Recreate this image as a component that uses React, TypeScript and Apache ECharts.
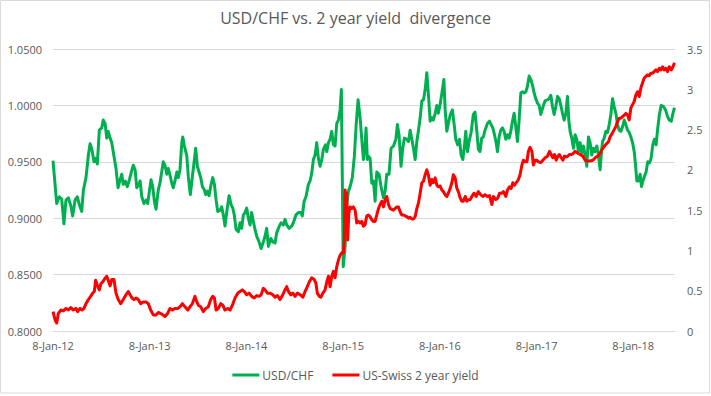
import React, { useEffect, useRef } from "react";
import * as echarts from "echarts";

// x values are weeks since 8-Jan-2012
const usdChf: [number, number][] = [
[0,0.951],[2,0.913],[3.4,0.919],[4.7,0.917],[5.9,0.895],[7,0.916],[8.3,0.918],[9.6,0.911],[10.6,0.902],[11.9,0.916],[13.1,0.919],[14.2,0.912],[15.5,0.906],[16.4,0.925],[17.8,0.936],[19.1,0.956],[20,0.966],[21,0.961],[22.1,0.95],[23,0.953],[23.9,0.948],[25,0.978],[26.3,0.98],[27.1,0.987],[28.1,0.984],[29,0.971],[29.8,0.977],[30.8,0.971],[31.7,0.967],[32.9,0.955],[34,0.944],[35.1,0.927],[36.2,0.934],[37.1,0.939],[37.9,0.93],[39,0.933],[40.1,0.928],[41.2,0.934],[42.3,0.941],[43.3,0.947],[44.3,0.943],[45.2,0.927],[46.3,0.93],[47,0.933],[47.9,0.919],[49.1,0.913],[50.2,0.916],[51.1,0.913],[52,0.924],[52.9,0.934],[53.8,0.928],[54.7,0.915],[55.6,0.908],[56.8,0.925],[57.7,0.931],[59.5,0.95],[60.4,0.947],[61.4,0.939],[62.2,0.944],[63,0.939],[64.1,0.931],[64.9,0.927],[65.8,0.933],[66.8,0.941],[67.6,0.936],[68.5,0.943],[69.5,0.967],[70,0.972],[70.9,0.964],[72.2,0.955],[73,0.937],[74.1,0.921],[75.2,0.937],[76.3,0.952],[77,0.962],[77.9,0.946],[78.8,0.941],[79.7,0.936],[80.6,0.928],[81.7,0.925],[82.4,0.921],[83.3,0.924],[84.2,0.92],[85.3,0.93],[86.2,0.936],[87.1,0.93],[88,0.916],[88.9,0.906],[90.1,0.907],[91,0.91],[91.9,0.903],[92.8,0.893],[93.7,0.905],[95,0.92],[96.1,0.912],[97,0.909],[97.8,0.903],[98.8,0.89],[100,0.888],[100.9,0.896],[101.8,0.891],[102.7,0.903],[103.6,0.905],[104.5,0.909],[105.4,0.9],[106.3,0.894],[107.2,0.905],[108.1,0.897],[109,0.89],[109.9,0.884],[111.2,0.879],[112.3,0.873],[113.5,0.879],[114.4,0.884],[115.3,0.891],[116.2,0.875],[117.5,0.882],[118.6,0.879],[119.8,0.878],[120.7,0.887],[122.1,0.893],[123.1,0.896],[124.3,0.894],[125.2,0.899],[126.1,0.894],[127.4,0.891],[128.8,0.893],[129.7,0.896],[131.1,0.903],[132.4,0.905],[133.7,0.905],[134.5,0.902],[135.5,0.915],[136.5,0.919],[137.8,0.93],[138.7,0.933],[139.6,0.94],[140.5,0.952],[141.4,0.956],[142.3,0.967],[143.2,0.953],[144.1,0.946],[145,0.952],[145.9,0.961],[147,0.965],[147.7,0.959],[148.6,0.967],[149.5,0.97],[150.4,0.977],[151.3,0.965],[152.2,0.964],[153.1,0.984],[154,0.987],[154.9,0.996],[155.6,1.014],[156.6,0.857],[157.6,0.875],[158.5,0.913],[159.4,0.924],[160.3,0.928],[161.5,0.936],[162.6,0.955],[163.5,0.981],[164.6,1.005],[165.7,0.989],[166.6,0.97],[167.5,0.952],[168.4,0.964],[168.9,0.98],[169.6,0.952],[170.2,0.955],[171.1,0.953],[172,0.931],[172.9,0.933],[173.8,0.915],[174.7,0.941],[175.9,0.939],[177,0.928],[178.3,0.918],[179.2,0.924],[180.1,0.939],[181.3,0.939],[182.4,0.962],[183.7,0.964],[185,0.97],[185.8,0.983],[186.7,0.974],[187.8,0.946],[188.7,0.962],[189.6,0.971],[190.9,0.97],[191.8,0.968],[192.7,0.978],[193.6,0.97],[194.5,0.962],[195.4,0.952],[196.3,0.968],[197.2,0.978],[198.1,0.989],[199,1.004],[199.9,1.005],[200.8,1.014],[201.7,1.029],[202.5,1.011],[203.5,0.986],[204.4,0.989],[205.2,0.987],[206.2,0.993],[207.1,1.0],[207.9,0.993],[209,1.002],[210.1,1.014],[210.9,1.023],[211.6,0.996],[212.5,0.977],[213.3,0.984],[214.4,0.992],[215.5,0.996],[216.6,0.981],[217.3,0.97],[218.4,0.965],[219.3,0.97],[220.2,0.956],[221.1,0.952],[222,0.964],[222.7,0.977],[223.6,0.959],[224.5,0.968],[225.6,0.976],[226.8,0.992],[227.7,0.994],[228.7,0.977],[229.5,0.961],[230.4,0.959],[231.3,0.971],[232.2,0.972],[233.1,0.978],[234.4,0.984],[235.5,0.986],[236.4,0.983],[237.3,0.98],[238.2,0.974],[239.1,0.967],[239.8,0.959],[240.7,0.972],[241.6,0.978],[242.5,0.98],[243.4,0.977],[244.3,0.97],[245.2,0.974],[246.1,0.971],[247,0.977],[247.9,0.986],[248.8,0.993],[249.7,0.981],[250.6,0.968],[251.5,0.987],[252.4,1.011],[253.3,1.012],[254.2,1.011],[255.1,1.012],[256,1.017],[256.9,1.026],[257.8,1.023],[258.7,1.018],[259.6,1.011],[260.5,1.006],[261.4,1.002],[262.3,1.0],[263.2,0.992],[264.6,1.0],[265.5,1.004],[266.8,1.005],[267.7,1.006],[268.6,1.009],[269.5,0.999],[270.4,0.992],[271.3,0.999],[272.2,1.008],[273.1,1.006],[274,1.0],[274.9,0.993],[275.8,0.987],[276.7,0.993],[277.6,1.008],[278.3,0.987],[279,0.977],[279.9,0.971],[280.8,0.962],[281.7,0.974],[282.6,0.97],[283.5,0.959],[284.4,0.967],[285.3,0.958],[286.2,0.964],[287.1,0.956],[288,0.946],[288.9,0.972],[289.8,0.967],[290.7,0.956],[291.6,0.962],[292.5,0.959],[293.4,0.964],[294.3,0.956],[295.2,0.943],[295.8,0.956],[296.5,0.968],[297.4,0.971],[298.3,0.977],[299.2,0.976],[300.1,0.983],[301,0.992],[301.9,1.006],[302.8,0.999],[303.7,0.993],[304.6,0.983],[305.5,0.978],[306.4,0.977],[307.3,0.981],[308.2,0.987],[309.1,0.983],[310,0.978],[310.9,0.976],[311.8,0.972],[312.7,0.967],[313.6,0.959],[314.3,0.947],[315,0.933],[315.9,0.933],[316.8,0.939],[317.5,0.928],[318.3,0.933],[319.1,0.937],[320,0.941],[320.9,0.95],[321.8,0.949],[322.7,0.953],[323.6,0.965],[324.5,0.97],[325.4,0.965],[326.3,0.98],[327.2,0.992],[328.1,1.0],[329.4,0.999],[330.5,0.996],[331.6,0.99],[332.5,0.987],[333.6,0.986],[334.5,0.993],[335.3,0.998]
];

const usSwiss2y: [number, number][] = [
[0,0.24],[1.1,0.14],[2,0.1],[2.9,0.22],[4.2,0.26],[5.6,0.25],[7,0.28],[8.3,0.26],[9.6,0.29],[11,0.26],[12.4,0.28],[13.3,0.24],[14.6,0.28],[15.7,0.26],[16.7,0.28],[17.8,0.34],[19.1,0.39],[20.3,0.43],[21.4,0.47],[22.3,0.49],[23,0.63],[23.9,0.57],[25,0.51],[25.9,0.59],[26.8,0.61],[27.7,0.64],[29,0.68],[29.8,0.63],[30.8,0.56],[31.7,0.64],[32.9,0.64],[34,0.47],[35.2,0.39],[36.5,0.34],[37.9,0.39],[39.4,0.45],[40.6,0.49],[41.6,0.45],[42.6,0.41],[43.7,0.39],[44.8,0.41],[46,0.39],[47.3,0.34],[48.7,0.36],[50.2,0.36],[51.4,0.34],[52.7,0.26],[54.1,0.2],[55.6,0.2],[56.8,0.23],[58.7,0.21],[60.4,0.18],[61.9,0.22],[63.1,0.28],[64.4,0.26],[65.8,0.28],[67.3,0.28],[68.5,0.3],[69.8,0.34],[71.2,0.3],[72.7,0.26],[73.9,0.3],[75.2,0.34],[76.6,0.43],[77.6,0.36],[78.4,0.32],[79.7,0.3],[81.1,0.24],[82.4,0.28],[83.8,0.3],[85.1,0.39],[86.2,0.43],[87.1,0.41],[88,0.26],[89.2,0.28],[90.5,0.34],[91.6,0.32],[92.8,0.26],[94.3,0.28],[95.5,0.26],[96.8,0.32],[98.2,0.41],[99.7,0.47],[100.9,0.49],[102.2,0.51],[103.2,0.49],[104.5,0.45],[105.8,0.47],[107.2,0.43],[108.6,0.41],[109.9,0.44],[111.2,0.43],[112.3,0.45],[113.5,0.53],[114.4,0.51],[115.7,0.47],[117.1,0.47],[118.6,0.45],[119.8,0.42],[121.1,0.44],[122.5,0.39],[124,0.45],[125.2,0.51],[126.1,0.55],[127,0.49],[128.3,0.45],[129.4,0.47],[130.6,0.43],[131.9,0.47],[133.3,0.45],[134.8,0.42],[136,0.49],[137.2,0.55],[138.3,0.61],[139.6,0.66],[140.9,0.64],[141.9,0.59],[142.6,0.47],[143.7,0.43],[144.6,0.42],[145.6,0.47],[146.8,0.51],[147.7,0.61],[148.6,0.68],[149.5,0.55],[150.4,0.68],[151.3,0.74],[152.2,0.66],[153.1,0.8],[154,0.88],[154.9,0.94],[155.8,0.97],[156.7,0.97],[157.2,1.13],[157.6,1.75],[158.1,1.38],[158.5,1.71],[159,1.13],[159.6,1.46],[160.3,1.54],[161.2,1.52],[162.1,1.54],[163,1.5],[163.9,1.34],[164.8,1.36],[165.7,1.34],[166.6,1.36],[167.5,1.3],[168.4,1.32],[169.3,1.43],[170.2,1.44],[171.1,1.42],[172,1.38],[172.9,1.36],[173.8,1.36],[174.7,1.44],[175.6,1.52],[176.5,1.57],[177.4,1.61],[178.3,1.54],[179.2,1.63],[180.1,1.67],[181,1.57],[181.9,1.52],[182.8,1.51],[183.7,1.5],[184.6,1.52],[185.5,1.54],[186.4,1.54],[187.3,1.48],[188.2,1.44],[189.1,1.44],[190,1.43],[190.9,1.42],[191.8,1.4],[192.7,1.41],[193.6,1.39],[194.5,1.39],[195.4,1.42],[196.3,1.52],[197.2,1.59],[198.1,1.71],[199,1.84],[199.9,1.86],[200.8,1.94],[201.7,2.0],[202.5,1.94],[203.5,1.81],[204.4,1.88],[205.2,1.84],[206.2,1.9],[207.1,1.81],[207.9,1.79],[208.9,1.8],[209.8,1.75],[210.6,1.73],[211.6,1.69],[212.5,1.67],[213.3,1.71],[214.3,1.77],[215.2,1.84],[216,1.94],[217,1.9],[217.9,1.77],[218.7,1.73],[219.7,1.65],[220.6,1.61],[221.4,1.61],[222.4,1.67],[223.3,1.61],[224.1,1.63],[225.1,1.63],[226,1.67],[227.2,1.71],[228.3,1.67],[229.5,1.73],[230.8,1.69],[231.9,1.67],[233.1,1.69],[234.4,1.67],[235.5,1.68],[236.8,1.57],[237.6,1.67],[238.9,1.63],[240,1.65],[240.9,1.71],[242.2,1.71],[243,1.73],[244.3,1.67],[245.2,1.75],[246.3,1.79],[247.2,1.77],[248.1,1.84],[249,1.81],[249.9,1.84],[251.1,1.88],[252,1.94],[253,2.06],[253.8,2.12],[254.7,2.1],[255.7,2.1],[256.5,2.23],[257.4,2.28],[258.4,2.23],[259.2,2.06],[260.1,2.12],[261,2.12],[261.9,2.1],[263.2,2.09],[264.3,2.12],[265.5,2.15],[266.8,2.17],[267.9,2.23],[268.8,2.19],[269.7,2.15],[270.6,2.19],[271.5,2.12],[272.4,2.17],[273.2,2.19],[274.2,2.15],[275.1,2.12],[275.9,2.17],[276.9,2.16],[277.8,2.17],[278.6,2.19],[279.6,2.19],[280.5,2.2],[281.7,2.23],[283,2.21],[284.4,2.19],[285.9,2.17],[287.1,2.12],[288.4,2.11],[289.8,2.11],[291.3,2.12],[292.5,2.15],[293.8,2.17],[294.8,2.19],[296.1,2.25],[297.4,2.29],[298.5,2.32],[299.7,2.35],[300.6,2.41],[301.9,2.46],[302.8,2.5],[303.7,2.54],[304.6,2.6],[305.5,2.64],[306.4,2.64],[307.3,2.66],[308.2,2.68],[309.1,2.7],[310,2.68],[310.9,2.62],[311.8,2.77],[312.7,2.81],[313.6,2.85],[314.5,2.93],[315.4,2.97],[316.3,2.91],[317.2,3.02],[318.1,3.08],[319,3.14],[319.9,3.16],[320.8,3.18],[321.7,3.17],[322.6,3.2],[323.5,3.2],[324.4,3.22],[325.3,3.24],[326.2,3.22],[327.1,3.26],[328,3.24],[328.9,3.28],[329.8,3.24],[330.7,3.26],[331.6,3.22],[332.5,3.28],[333.6,3.24],[334.5,3.28],[335.3,3.33]
];

const xTickLabels = ["8-Jan-12", "8-Jan-13", "8-Jan-14", "8-Jan-15", "8-Jan-16", "8-Jan-17", "8-Jan-18"];
const seriesNames = ["USD/CHF", "US-Swiss 2 year yield"];
const titleText = "USD/CHF vs. 2 year yield  divergence";

const WEEKS_PER_YEAR = 365.25 / 7;
const FONT = "'Open Sans', sans-serif";
const TEXT = "#595959";
const GRID = "#D9D9D9";

export default function App() {
  const ref = useRef<HTMLDivElement>(null);
  useEffect(() => {
    document.body.style.margin = "0";
    const chart = echarts.init(ref.current!, null, { renderer: "svg" });
    chart.setOption({
      animation: false,
      backgroundColor: "#ffffff",
      textStyle: { fontFamily: FONT },
      title: {
        text: titleText,
        left: "center",
        top: 10,
        padding: 0,
        textStyle: { fontFamily: FONT, fontSize: 16, fontWeight: "normal", color: TEXT },
      },
      legend: {
        data: seriesNames,
        top: 364,
        left: "center",
        icon: "rect",
        itemWidth: 27,
        itemHeight: 3,
        itemGap: 19,
        textStyle: { fontFamily: FONT, fontSize: 12, color: TEXT, padding: [0, 0, 0, -2] },
      },
      grid: { left: 53, right: 36, top: 49, bottom: 65, containLabel: false },
      xAxis: {
        type: "value",
        min: 0,
        max: 335.6,
        interval: WEEKS_PER_YEAR,
        axisLine: { show: true, lineStyle: { color: GRID, width: 1 } },
        axisTick: { show: false },
        splitLine: { show: false },
        axisLabel: {
          showMaxLabel: false,
          margin: 9,
          fontFamily: FONT,
          fontSize: 11,
          color: TEXT,
          formatter: (v: number) => {
            const k = Math.round(v / WEEKS_PER_YEAR);
            return Math.abs(v - k * WEEKS_PER_YEAR) < 0.5 && k < xTickLabels.length ? xTickLabels[k] : "";
          },
        },
      },
      yAxis: [
        {
          type: "value",
          min: 0.8,
          max: 1.05,
          interval: 0.05,
          axisLine: { show: false },
          axisTick: { show: false },
          splitLine: { show: true, lineStyle: { color: GRID, width: 1 } },
          axisLabel: {
            margin: 11,
            fontFamily: FONT,
            fontSize: 11,
            color: TEXT,
            formatter: (v: number) => v.toFixed(4),
          },
        },
        {
          type: "value",
          min: 0,
          max: 3.5,
          interval: 0.5,
          position: "right",
          axisLine: { show: false },
          axisTick: { show: false },
          splitLine: { show: false },
          axisLabel: {
            margin: 12,
            fontFamily: FONT,
            fontSize: 11,
            color: TEXT,
            formatter: (v: number) => String(Math.round(v * 10) / 10),
          },
        },
      ],
      series: [
        {
          name: seriesNames[0],
          type: "line",
          yAxisIndex: 0,
          data: usdChf,
          showSymbol: false,
          color: "#00B050",
          lineStyle: { color: "#00B050", width: 3, join: "round" },
        },
        {
          name: seriesNames[1],
          type: "line",
          yAxisIndex: 1,
          data: usSwiss2y,
          showSymbol: false,
          color: "#FF0000",
          lineStyle: { color: "#FF0000", width: 3, join: "round" },
        },
      ],
      graphic: [
        {
          type: "rect",
          silent: true,
          shape: { x: 0.5, y: 0.5, width: 709, height: 392.5 },
          style: { fill: "none", stroke: GRID, lineWidth: 1 },
        },
      ],
    });
    return () => chart.dispose();
  }, []);
  return <div ref={ref} style={{ width: 711, height: 396 }} />;
}
